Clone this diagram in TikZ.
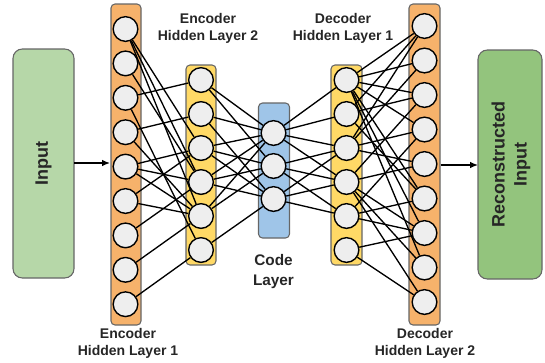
\documentclass[tikz,border=0pt]{standalone}
\usepackage{fontspec}
\setmainfont{Liberation Sans}
\usetikzlibrary{arrows.meta}
\definecolor{orangebar}{HTML}{F6B26B}
\definecolor{yellowbar}{HTML}{FFD966}
\definecolor{bluebar}{HTML}{9FC5E8}
\definecolor{lightgreen}{HTML}{B6D7A8}
\definecolor{darkgreen}{HTML}{93C47D}
\definecolor{neuronfill}{HTML}{EEEEEE}
\definecolor{barborder}{HTML}{666666}
\tikzset{
  layerbar/.style={draw=barborder, line width=0.8pt, rounded corners=3pt, inner sep=0pt, outer sep=0pt},
  iobox/.style={draw=barborder, line width=0.8pt, rounded corners=7pt, inner sep=0pt, outer sep=0pt},
  neuron/.style={circle, draw=black, fill=neuronfill, line width=1.05pt, minimum size=18.5pt, inner sep=0pt},
  conn/.style={draw=black, line width=1pt},
  flow/.style={draw=black, line width=1pt, -{Latex[length=6pt,width=5pt]}},
  lbl/.style={font=\fontsize{10.5}{12.75}\selectfont\bfseries, align=center, text=black!85},
  biglbl/.style={font=\fontsize{11.5}{15}\selectfont\bfseries, align=center, text=black!85},
  iolbl/.style={font=\fontsize{13.5}{16.5}\selectfont\bfseries, align=center, text=black!85, rotate=90}
}
\begin{document}
\begin{tikzpicture}[x=0.75pt, y=-0.75pt]
\useasboundingbox (0,0) rectangle (545,362);
% layer bars
\node[layerbar, fill=orangebar, minimum width=22.5pt, minimum height=240.75pt] (bar1) at (126,164.5) {};
\node[layerbar, fill=yellowbar, minimum width=22.5pt, minimum height=150pt] (bar2) at (201,165) {};
\node[layerbar, fill=bluebar, minimum width=23.25pt, minimum height=101.25pt] (barc) at (274,170.5) {};
\node[layerbar, fill=yellowbar, minimum width=23.25pt, minimum height=150pt] (bar3) at (346.5,165) {};
\node[layerbar, fill=orangebar, minimum width=23.25pt, minimum height=240.75pt] (bar4) at (424.5,164.5) {};
% input / output boxes
\node[iobox, fill=lightgreen, minimum width=45.75pt, minimum height=171.75pt] (inp) at (43.5,163.5) {};
\node[iolbl] (inptext) at (43.5,163.5) {Input};
\node[iobox, fill=darkgreen, minimum width=48pt, minimum height=171.75pt] (out) at (510,164.5) {};
\node[iolbl] (outtext) at (511,164.5) {Reconstructed\\Input};
% neurons
\foreach \i in {1,...,9} {
  \node[neuron] (a\i) at (125.5, {29+(\i-1)*34.4}) {};
  \node[neuron] (e\i) at (424.5, {26+(\i-1)*34.5}) {};
}
\foreach \i in {1,...,6} {
  \node[neuron] (b\i) at (201, {80+(\i-1)*34}) {};
  \node[neuron] (d\i) at (346.5, {80+(\i-1)*34}) {};
}
\foreach \i in {1,2,3} {
  \node[neuron] (c\i) at (273.5, {133+(\i-1)*33}) {};
}
% encoder hidden 1 -> encoder hidden 2
\foreach \s/\t in {1/3,1/4,1/5,2/4,3/1,3/6,4/2,4/5,5/3,5/4,5/5,6/3,6/5,7/4,8/5,9/6}
  \draw[conn] (a\s) -- (b\t);
% encoder hidden 2 -> code
\foreach \s/\t in {1/1,1/2,2/1,2/3,3/1,3/2,3/3,4/1,4/2,4/3,5/1,5/2,6/3}
  \draw[conn] (b\s) -- (c\t);
% code -> decoder hidden 1
\foreach \s/\t in {1/1,1/2,1/3,1/4,2/3,2/4,2/5,3/3,3/4,3/5}
  \draw[conn] (c\s) -- (d\t);
% decoder hidden 1 -> decoder hidden 2
\foreach \s/\t in {1/1,1/2,1/3,1/4,1/6,1/7,1/8,2/1,2/3,2/6,3/1,3/2,3/4,3/5,4/3,4/5,4/7,4/8,4/9,5/4,5/6,5/7,6/7,6/9}
  \draw[conn] (d\s) -- (e\t);
% flow arrows
\coordinate (inpout) at (74,163);
\coordinate (bar1in) at (110,163);
\coordinate (bar4out) at (440.5,165);
\coordinate (outin) at (478,165);
\draw[flow] (inpout) -- (bar1in);
\draw[flow] (bar4out) -- (outin);
% labels
\node[lbl] (lab1) at (128,343.5) {Encoder\\Hidden Layer 1};
\node[lbl] (lab2) at (208,28) {Encoder\\Hidden Layer 2};
\node[biglbl] (labc) at (273.5,272) {Code\\Layer};
\node[lbl] (lab3) at (343,28) {Decoder\\Hidden Layer 1};
\node[lbl] (lab4) at (425,343.5) {Decoder\\Hidden Layer 2};
\end{tikzpicture}
\end{document}
